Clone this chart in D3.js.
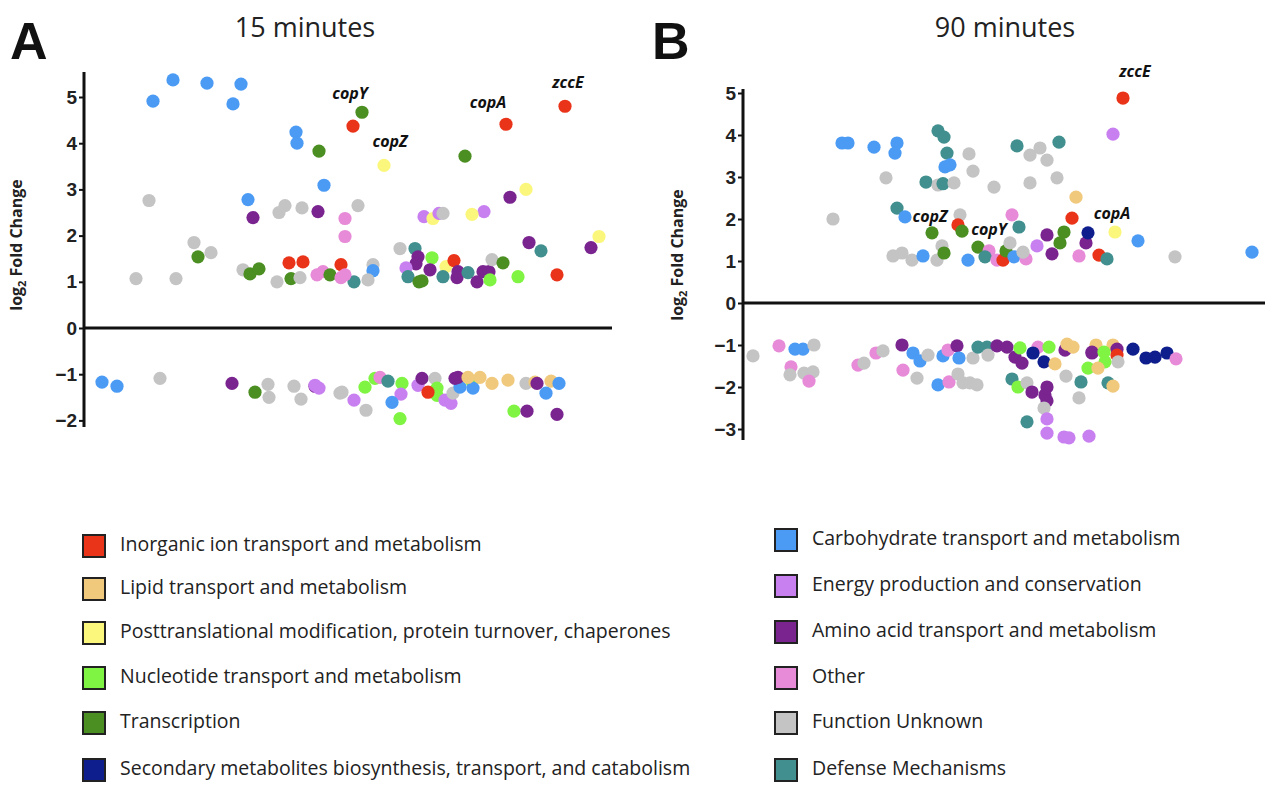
<!DOCTYPE html>
<html><head><meta charset="utf-8">
<script src="https://cdn.jsdelivr.net/npm/d3@7"></script>
<style>body{margin:0;background:#fff}svg{font-family:"Open Sans","Noto Sans",Arial,sans-serif}</style>
</head><body><svg id="c" width="1280" height="805"></svg>
<script>
const categoryKeys = ["I","L","P","N","T","S","C","E","A","O","U","D"];
const categoryNames = ["Inorganic ion transport and metabolism","Lipid transport and metabolism","Posttranslational modification, protein turnover, chaperones","Nucleotide transport and metabolism","Transcription","Secondary metabolites biosynthesis, transport, and catabolism","Carbohydrate transport and metabolism","Energy production and conservation","Amino acid transport and metabolism","Other","Function Unknown","Defense Mechanisms"];
const categoryColors = ["#ea3419","#f1c97c","#fbf77c","#80f442","#4b8e22","#0e1e8c","#4b9bf4","#c880f0","#7a2490","#e78ad7","#c4c4c4","#418f8f"];
const ticksA = [-2,-1,0,1,2,3,4,5];
const ticksB = [-3,-2,-1,0,1,2,3,4,5];
// [gene rank, log2 fold change, category]
const pointsA = [
[69,4.91,"C"],[89,5.37,"C"],[123,5.30,"C"],[157,5.28,"C"],[149,4.85,"C"],[212,4.24,"C"],[213,4.0,"C"],[240,3.09,"C"],[164,2.78,"C"],
[235,3.83,"T"],[65,2.76,"U"],[110,1.85,"U"],[127,1.63,"U"],[52,1.07,"U"],[92,1.07,"U"],[114,1.54,"T"],
[169,2.39,"A"],[234,2.52,"A"],[195,2.5,"U"],[201,2.65,"U"],[218,2.6,"U"],[261,2.37,"O"],[261,1.98,"O"],
[159,1.26,"U"],[166,1.17,"T"],[175,1.28,"T"],[193,1.0,"U"],[207,1.07,"T"],[216,1.09,"U"],
[205,1.41,"I"],[219,1.43,"I"],[257,1.37,"I"],[233,1.15,"O"],[239,1.22,"O"],[246,1.15,"T"],[257,1.09,"O"],
[18,-1.17,"C"],[33,-1.26,"C"],[76,-1.09,"U"],[148,-1.2,"A"],[171,-1.39,"T"],[184,-1.22,"U"],[185,-1.5,"U"],[210,-1.26,"U"],[217,-1.54,"U"],[231,-1.26,"A"],[231,-1.24,"E"],[235,-1.3,"E"],[256,-1.41,"U"],
[278,4.67,"T"],[269,4.37,"I"],[300,3.52,"P"],[381,3.72,"T"],[422,4.41,"I"],[481,4.8,"I"],
[442,3.0,"P"],[426,2.83,"A"],[400,2.52,"E"],[388,2.46,"P"],[340,2.41,"E"],[349,2.37,"P"],[355,2.48,"E"],[359,2.48,"U"],[274,2.65,"U"],
[445,1.85,"A"],[457,1.67,"D"],[515,1.98,"P"],[507,1.74,"A"],[473,1.15,"I"],
[316,1.72,"U"],[331,1.72,"D"],[334,1.54,"A"],[332,1.39,"A"],[348,1.52,"N"],[322,1.3,"E"],[346,1.26,"A"],[324,1.11,"D"],[335,1.0,"T"],[338,1.02,"T"],[362,1.33,"P"],[370,1.46,"I"],[374,1.22,"A"],[359,1.11,"D"],[373,1.09,"A"],[384,1.2,"D"],[393,1.0,"A"],[399,1.22,"A"],[405,1.22,"A"],[406,1.04,"N"],[408,1.48,"U"],[419,1.41,"T"],[434,1.11,"N"],
[289,1.37,"U"],[289,1.24,"C"],[284,1.04,"U"],[270,1.0,"D"],[261,1.15,"O"],
[258,-1.39,"U"],[270,-1.56,"E"],[282,-1.78,"U"],[281,-1.28,"N"],[291,-1.09,"N"],[296,-1.07,"O"],[304,-1.15,"D"],[318,-1.2,"N"],[317,-1.43,"E"],[308,-1.61,"C"],[316,-1.96,"N"],[334,-1.24,"E"],[338,-1.09,"A"],[351,-1.09,"U"],[353,-1.3,"N"],[353,-1.46,"N"],[344,-1.39,"I"],[361,-1.56,"E"],[367,-1.63,"E"],[369,-1.41,"U"],[376,-1.28,"C"],[371,-1.09,"A"],[374,-1.07,"A"],[388,-1.15,"N"],[389,-1.3,"C"],[384,-1.07,"L"],[396,-1.07,"L"],[408,-1.2,"L"],[424,-1.13,"L"],[442,-1.2,"U"],[451,-1.17,"L"],[453,-1.2,"A"],[467,-1.15,"L"],[475,-1.2,"C"],[462,-1.41,"C"],[430,-1.8,"N"],[443,-1.8,"A"],[473,-1.87,"A"]
];
const pointsB = [
[99,3.81,"C"],[105,3.81,"C"],[131,3.71,"C"],[154,3.81,"C"],[152,3.57,"C"],
[195,4.1,"D"],[201,3.95,"D"],[204,3.57,"D"],[202,3.24,"C"],[207,3.29,"C"],[226,3.55,"U"],[230,3.14,"U"],[143,2.98,"U"],[183,2.88,"D"],[195,2.81,"U"],[200,2.84,"D"],[211,2.86,"U"],[251,2.76,"U"],[90,2.0,"U"],
[154,2.26,"D"],[162,2.05,"C"],[217,2.1,"U"],[215,1.86,"I"],[189,1.67,"T"],[219,1.71,"T"],
[150,1.12,"U"],[159,1.19,"U"],[169,1.02,"U"],[180,1.12,"C"],[194,1.02,"U"],[199,1.36,"U"],[201,1.19,"T"],[225,1.02,"C"],[235,1.33,"T"],[246,1.24,"O"],[242,1.1,"D"],[254,1.02,"O"],[260,1.02,"I"],[263,1.24,"T"],[271,1.1,"C"],[283,1.05,"O"],[280,1.21,"U"],[267,1.43,"U"],[269,2.1,"O"],[276,1.81,"D"],[294,1.36,"E"],[304,1.62,"A"],[309,1.17,"A"],[317,1.43,"T"],[321,1.69,"T"],[329,2.02,"I"],[333,2.52,"L"],[336,1.12,"O"],[343,1.43,"A"],[345,1.67,"S"],
[380,4.88,"I"],[370,4.02,"E"],[274,3.74,"D"],[287,3.52,"U"],[297,3.69,"U"],[304,3.4,"U"],[316,3.83,"D"],[287,2.86,"U"],[314,2.98,"U"],[372,1.69,"P"],[395,1.48,"C"],[432,1.1,"U"],[509,1.21,"C"],[356,1.14,"I"],[364,1.05,"D"],
[10,-1.26,"U"],[36,-1.02,"O"],[52,-1.1,"C"],[60,-1.1,"C"],[71,-1.0,"U"],[48,-1.52,"O"],[47,-1.71,"U"],[61,-1.67,"U"],[70,-1.64,"U"],[66,-1.86,"O"],[115,-1.48,"O"],[121,-1.43,"U"],[133,-1.19,"O"],[140,-1.14,"U"],[159,-1.0,"A"],[160,-1.6,"O"],[170,-1.19,"C"],[177,-1.38,"C"],[174,-1.79,"U"],[185,-1.24,"U"],[200,-1.26,"C"],[205,-1.12,"O"],[214,-1.02,"A"],[216,-1.31,"C"],[230,-1.31,"U"],[235,-1.05,"D"],[195,-1.95,"C"],[206,-1.88,"O"],[215,-1.69,"U"],[220,-1.9,"U"],[227,-1.9,"U"],[234,-1.95,"U"],[244,-1.05,"D"],[245,-1.24,"U"],
[254,-1.02,"A"],[264,-1.05,"A"],[272,-1.29,"A"],[279,-1.43,"A"],[277,-1.07,"N"],[295,-1.05,"O"],[306,-1.05,"N"],[301,-1.4,"S"],[312,-1.45,"L"],[322,-1.12,"A"],[330,-1.05,"L"],[324,-0.98,"L"],[349,-1.19,"A"],[345,-1.55,"N"],[323,-1.74,"U"],[269,-1.81,"D"],[275,-2.0,"N"],[284,-1.9,"U"],[289,-2.12,"A"],[304,-2.0,"A"],[302,-2.19,"A"],[304,-2.33,"A"],[301,-2.5,"U"],[304,-2.76,"E"],[284,-2.83,"D"],[304,-3.1,"E"],[321,-3.19,"E"],[326,-3.21,"E"],[346,-3.17,"E"],[338,-1.88,"D"],[336,-2.26,"U"],
[353,-1.0,"L"],[349,-1.17,"A"],[370,-1.0,"L"],[374,-1.1,"A"],[374,-1.24,"I"],[375,-1.4,"U"],[361,-1.17,"N"],[362,-1.4,"N"],[355,-1.55,"L"],[390,-1.1,"S"],[403,-1.31,"S"],[412,-1.29,"S"],[424,-1.19,"S"],[433,-1.33,"O"],[365,-1.9,"D"],[370,-1.98,"L"],[290,-1.19,"S"]
];
const labelsA = [["copY",278,4.67,-12,-18],["copZ",300,3.52,6,-23],["copA",422,4.41,-18,-21],["zccE",481,4.8,3,-23]];
const labelsB = [["zccE",380,4.88,12,-25],["copZ",215,1.86,-28,-7],["copY",219,1.71,27,0],["copA",329,2.02,40,-3]];

const svg = d3.select("#c");
const color = d3.scaleOrdinal(categoryKeys, categoryColors);

function panel(o){
  const x = d3.scaleLinear().domain([0,o.xmax]).range([o.x0,o.x1]);
  const y = d3.scaleLinear().domain([0,5]).range([o.y0,o.y5]);
  const g = svg.append("g");
  g.selectAll("circle").data(o.pts).join("circle")
    .attr("cx",d=>x(d[0])).attr("cy",d=>y(d[1])).attr("r",6.6)
    .attr("fill",d=>color(d[2]));
  g.append("line").attr("x1",o.x0).attr("x2",o.x1).attr("y1",y(0)).attr("y2",y(0))
    .attr("stroke","#111").attr("stroke-width",3);
  const ax = g.append("g").attr("transform",`translate(${o.x0},0)`)
    .call(d3.axisLeft(y).tickValues(o.ticks).tickSize(5).tickPadding(2).tickFormat(d3.format("d")));
  ax.select(".domain").remove();
  ax.selectAll(".tick line").attr("stroke","#111").attr("stroke-width",2);
  ax.selectAll("text").attr("font-size",19).attr("font-weight","bold").attr("fill","#222")
    .style("font-family","Liberation Sans, Arial, sans-serif");
  g.append("line").attr("x1",o.x0).attr("x2",o.x0).attr("y1",o.ytop).attr("y2",o.ybot)
    .attr("stroke","#111").attr("stroke-width",3);
  const t = g.append("text").attr("transform",`translate(${o.lx},${o.ly}) rotate(-90)`)
    .attr("text-anchor","middle").attr("font-size",16).attr("font-weight","bold").attr("fill","#222");
  t.append("tspan").text("log");
  t.append("tspan").text("2").attr("font-size",11).attr("dy",4);
  t.append("tspan").text(" Fold Change").attr("dy",-4);
  svg.append("text").attr("x",o.tx).attr("y",37).attr("text-anchor","middle").attr("font-size",27).attr("fill","#222").text(o.title);
  svg.append("text").attr("x",o.px).attr("y",59).attr("font-size",52).attr("font-weight","bold").attr("fill","#111")
    .style("font-family","Liberation Sans, Arial, sans-serif").text(o.letter);
  g.selectAll("text.gene").data(o.labels).join("text").attr("class","gene")
    .attr("x",d=>x(d[1])+d[3]).attr("y",d=>y(d[2])+d[4]).attr("text-anchor","middle")
    .attr("dominant-baseline","middle").attr("font-size",16).attr("font-weight","bold")
    .attr("font-style","italic").attr("fill","#111").text(d=>d[0]);
}
panel({pts:pointsA,labels:labelsA,xmax:528,x0:84,x1:612,y0:328,y5:97,ytop:72,ybot:427,ticks:ticksA,lx:22,ly:245,tx:305,title:"15 minutes",px:10,letter:"A"});
panel({pts:pointsB,labels:labelsB,xmax:522,x0:743,x1:1265,y0:303,y5:93,ytop:89,ybot:440,ticks:ticksB,lx:683,ly:255,tx:1005,title:"90 minutes",px:652,letter:"B"});

const leg = svg.append("g");
const rowsL = [546,589,633,678,723,770], rowsR = [540,586,632,678,723,770];
categoryNames.forEach((n,i)=>{
  const left = i<6, yy = left?rowsL[i]:rowsR[i-6], bx = left?83:775;
  leg.append("rect").attr("x",bx).attr("y",yy-11).attr("width",22).attr("height",22)
    .attr("fill",categoryColors[i]).attr("stroke","#222").attr("stroke-width",2);
  leg.append("text").attr("x",bx+37).attr("y",yy).attr("dominant-baseline","middle")
    .attr("font-size",19.5).attr("fill","#222").text(n);
});
</script></body></html>
